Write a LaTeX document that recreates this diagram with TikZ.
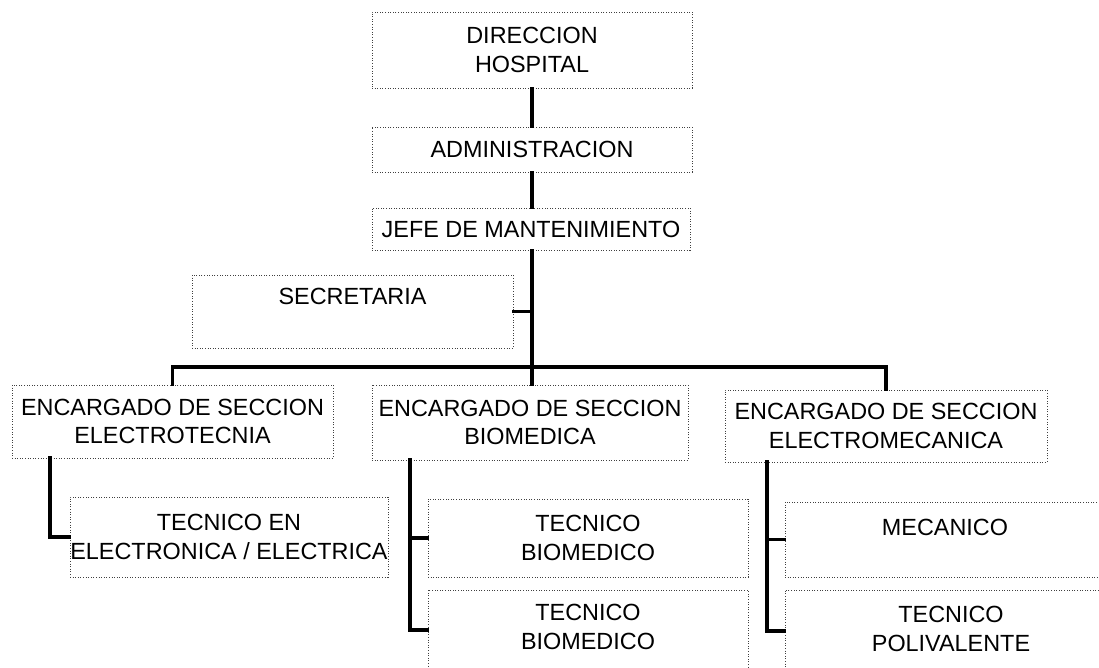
\documentclass[tikz,border=0pt]{standalone}
\usepackage{fontspec}
\setmainfont{Liberation Sans}
\begin{document}
\begin{tikzpicture}[x=1pt,y=-1pt,
  box/.style={draw=black!75, line width=0.8pt, dash pattern=on 1pt off 1.6pt, inner sep=0pt, align=center,
    font=\fontsize{23.4}{28.5}\selectfont},
  lbl/.style={inner sep=0pt, align=center, font=\fontsize{23.4}{28.5}\selectfont},
  conn/.style={line width=3.4pt, line cap=rect}]
\clip (0,0) rectangle (1099,668);
\fill[white] (0,0) rectangle (1099,668);
\node[box, minimum width=320pt, minimum height=76pt] (dir) at (532,50) {DIRECCION\\HOSPITAL};
\node[box, minimum width=320pt, minimum height=45pt] (adm) at (532,149.5) {ADMINISTRACION};
\node[box, minimum width=318pt, minimum height=42pt] (jefe) at (531,229) {JEFE DE MANTENIMIENTO};
\node[box, minimum width=321pt, minimum height=73pt] (sec) at (352.5,311.5) {};
\node[lbl] (sectxt) at (352.5,296) {SECRETARIA};
\node[box, minimum width=321pt, minimum height=73pt] (elt) at (172.5,421.5) {ENCARGADO DE SECCION\\ELECTROTECNIA};
\node[box, minimum width=316pt, minimum height=75pt] (bio) at (530,422.5) {ENCARGADO DE SECCION\\BIOMEDICA};
\node[box, minimum width=322pt, minimum height=72pt] (elm) at (886,426) {ENCARGADO DE SECCION\\ELECTROMECANICA};
\node[box, minimum width=318pt, minimum height=80pt] (tel) at (229,537) {TECNICO EN\\ELECTRONICA / ELECTRICA};
\node[box, minimum width=320pt, minimum height=78pt] (tb1) at (588,538) {TECNICO\\BIOMEDICO};
\node[box, minimum width=320pt, minimum height=80pt] (tb2) at (588,630) {};
\node[lbl] (tb2txt) at (588,627) {TECNICO\\BIOMEDICO};
\node[box, minimum width=320pt, minimum height=75pt] (mec) at (945,539.5) {};
\node[lbl] (mectxt) at (945,527) {MECANICO};
\node[box, minimum width=320pt, minimum height=82pt] (pol) at (945,631) {};
\node[lbl] (poltxt) at (951,629) {TECNICO\\POLIVALENTE};
\coordinate (bus) at (532,367);
\coordinate (eltd) at (50,458);
\coordinate (biod) at (410,460);
\coordinate (elmd) at (767,462);
\draw[conn] (dir.south) -- (adm.north);
\draw[conn] (adm.south) -- (adm.south |- jefe.north);
\draw[conn] (adm.south |- jefe.south) -- (bus);
\draw[conn] (sec.east) -- (sec.east -| bus);
\draw[conn] (elt.north) |- (bus) -| (elm.north);
\draw[conn] (bus) -- (bus |- bio.north);
\draw[conn] (eltd) |- (tel.west);
\draw[conn] (biod) |- (tb2.west);
\draw[conn] (biod |- tb1.west) -- (tb1.west);
\draw[conn] (elmd) |- (pol.west);
\draw[conn] (elmd |- mec.west) -- (mec.west);
\end{tikzpicture}
\end{document}
